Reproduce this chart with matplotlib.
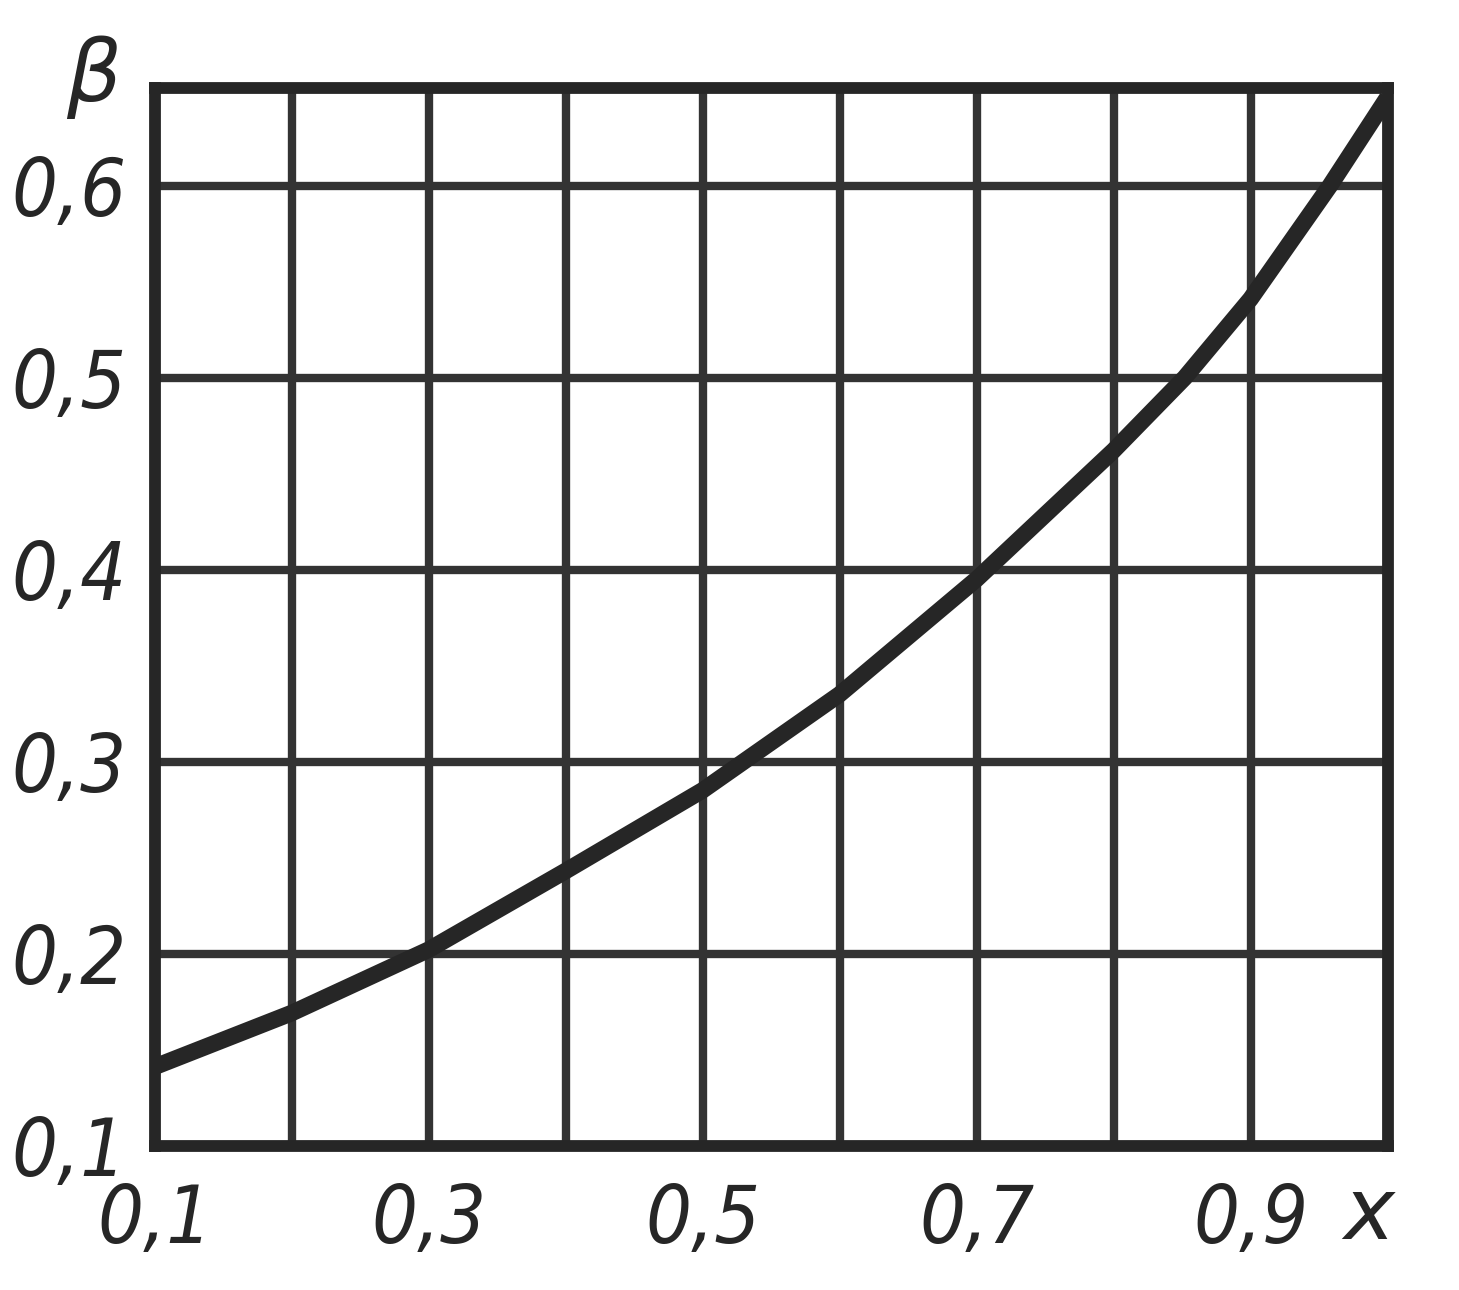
import matplotlib
matplotlib.use('Agg')
import matplotlib.pyplot as plt
import numpy as np

# values
x_vals = [0.1, 0.2, 0.3, 0.4, 0.5, 0.6, 0.7, 0.8, 0.852, 0.9, 0.958, 1.0]
beta_vals = [0.141, 0.169, 0.202, 0.243, 0.285, 0.335, 0.395, 0.462, 0.500, 0.541, 0.600, 0.646]

x_grid = [0.1, 0.2, 0.3, 0.4, 0.5, 0.6, 0.7, 0.8, 0.9, 1.0]
x_labels = ['0,1', '', '0,3', '', '0,5', '', '0,7', '', '0,9', '']
y_grid = [0.1, 0.2, 0.3, 0.4, 0.5, 0.6]
y_labels = ['0,1', '0,2', '0,3', '0,4', '0,5', '0,6']

plt.rcParams['font.family'] = ['DejaVu Sans']

ink = '#262626'
tick_font = dict(size=58, style='italic', stretch='condensed')

fig = plt.figure(figsize=(14.59, 12.9), dpi=100)
ax = fig.add_axes([0.106, 0.112, 0.845, 0.820])

ax.plot(x_vals, beta_vals, color=ink, lw=12, solid_capstyle='butt',
        solid_joinstyle='round', zorder=3)

ax.set_xlim(0.1, 1.0)
ax.set_ylim(0.1, 0.651)
ax.set_xticks(x_grid)
ax.set_xticklabels(x_labels, fontdict=tick_font)
ax.set_yticks(y_grid)
ax.set_yticklabels(y_labels, fontdict=tick_font)
ax.grid(True, color='#333333', lw=6)
ax.set_axisbelow(True)
ax.tick_params(length=0, colors=ink)
ax.tick_params(axis='x', pad=26)
ax.tick_params(axis='y', pad=20)
for sp in ax.spines.values():
    sp.set_linewidth(8.5)
    sp.set_color(ink)

fig.text(0.064, 0.94, 'β', fontsize=62, fontstyle='italic', color=ink,
         ha='center', va='center')
fig.text(0.938, 0.058, 'x', fontsize=62, fontstyle='italic', color=ink,
         ha='center', va='center')

plt.savefig('out.png', dpi=100)
